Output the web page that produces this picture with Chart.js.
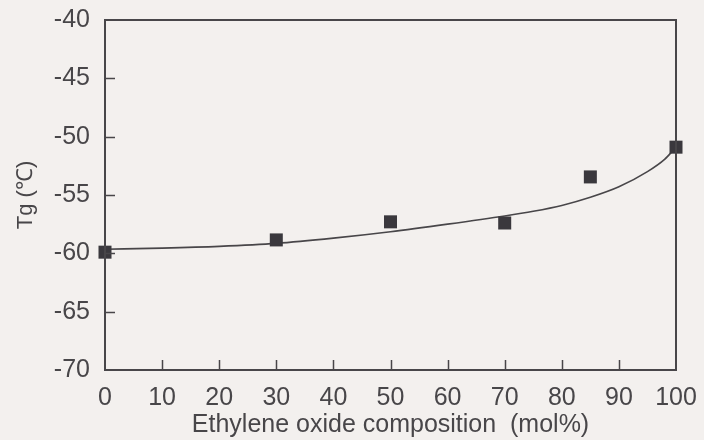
<!DOCTYPE html>
<html>
<head>
<meta charset="utf-8">
<script src="https://cdn.jsdelivr.net/npm/chart.js@4"></script>
<style>
    html, body { margin: 0; padding: 0; background: #f3f0ee; }
    #wrap { width: 704px; height: 440px; }
</style>
</head>
<body>
<div id="wrap"><canvas id="tgChart" width="704" height="440"></canvas></div>
<script>
// Measured Tg values
const compositions = [0, 30, 50, 70, 85, 100];
const tgValues = [-59.9, -58.85, -57.3, -57.4, -53.45, -50.9];

// Fitted curve through the measurements
const fitX = [0, 10, 20, 30, 40, 50, 60, 70, 75, 80, 85, 90, 95, 98, 100];
const fitY = [-59.65, -59.55, -59.4, -59.15, -58.7, -58.15, -57.5, -56.8, -56.4, -55.9, -55.2, -54.3, -53.0, -51.95, -50.9];

const xTicks = [0, 10, 20, 30, 40, 50, 60, 70, 80, 90, 100];
const yTicks = [-70, -65, -60, -55, -50, -45, -40];

const INK = '#484649';
const FONT = "'Liberation Sans', Arial, sans-serif";

// Frame plus inward tick marks
const framePlugin = {
    id: 'frame',
    afterDraw(chart) {
        const { ctx, chartArea: a, scales } = chart;
        ctx.save();
        ctx.strokeStyle = INK;
        ctx.lineWidth = 2;
        ctx.strokeRect(a.left, a.top, a.right - a.left, a.bottom - a.top);
        ctx.lineWidth = 1.5;
        ctx.beginPath();
        xTicks.slice(1, -1).forEach(v => {
            const px = Math.round(scales.x.getPixelForValue(v)) + 0.5;
            ctx.moveTo(px, a.bottom);
            ctx.lineTo(px, a.bottom - 10);
        });
        yTicks.slice(1, -1).forEach(v => {
            const py = Math.round(scales.y.getPixelForValue(v)) + 0.5;
            ctx.moveTo(a.left, py);
            ctx.lineTo(a.left + 10, py);
        });
        ctx.stroke();
        ctx.restore();
    },
};

new Chart(document.getElementById('tgChart'), {
    type: 'scatter',
    data: {
        datasets: [
            {
                label: 'fit',
                type: 'line',
                data: fitX.map((x, i) => ({ x, y: fitY[i] })),
                borderColor: INK,
                borderWidth: 1.6,
                pointRadius: 0,
                cubicInterpolationMode: 'monotone',
                fill: false,
                clip: false,
                order: 1,
            },
            {
                label: 'Tg',
                data: compositions.map((x, i) => ({ x, y: tgValues[i] })),
                pointStyle: 'rect',
                pointRadius: 9.2,
                backgroundColor: '#3a383d',
                borderColor: '#3a383d',
                borderWidth: 0,
                clip: false,
                order: 0,
            },
        ],
    },
    options: {
        responsive: false,
        animation: false,
        layout: { padding: { top: 20, right: 28, left: 0, bottom: 0 } },
        plugins: { legend: { display: false }, tooltip: { enabled: false } },
        scales: {
            x: {
                type: 'linear',
                min: 0,
                max: 100,
                afterBuildTicks: s => { s.ticks = xTicks.map(v => ({ value: v })); },
                afterFit: s => { s.height = 70; s.paddingLeft = 0; s.paddingRight = 0; },
                grid: { display: false, drawTicks: false },
                border: { display: false },
                ticks: { color: INK, font: { family: FONT, size: 25 }, padding: 13, maxRotation: 0 },
                title: {
                    display: true,
                    text: 'Ethylene oxide composition  (mol%)',
                    color: INK,
                    font: { family: FONT, size: 25 },
                    padding: { top: 0, bottom: 0 },
                },
            },
            y: {
                type: 'linear',
                min: -70,
                max: -40,
                afterBuildTicks: s => { s.ticks = yTicks.map(v => ({ value: v })); },
                afterFit: s => { s.width = 105; s.paddingTop = 0; s.paddingBottom = 0; },
                grid: { display: false, drawTicks: false },
                border: { display: false },
                ticks: { color: INK, font: { family: FONT, size: 25 }, padding: 15 },
                title: {
                    display: true,
                    text: 'Tg (℃)',
                    color: INK,
                    font: { family: FONT, size: 22 },
                    padding: { top: 13, bottom: 0 },
                },
            },
        },
    },
    plugins: [framePlugin],
});
</script>
</body>
</html>
